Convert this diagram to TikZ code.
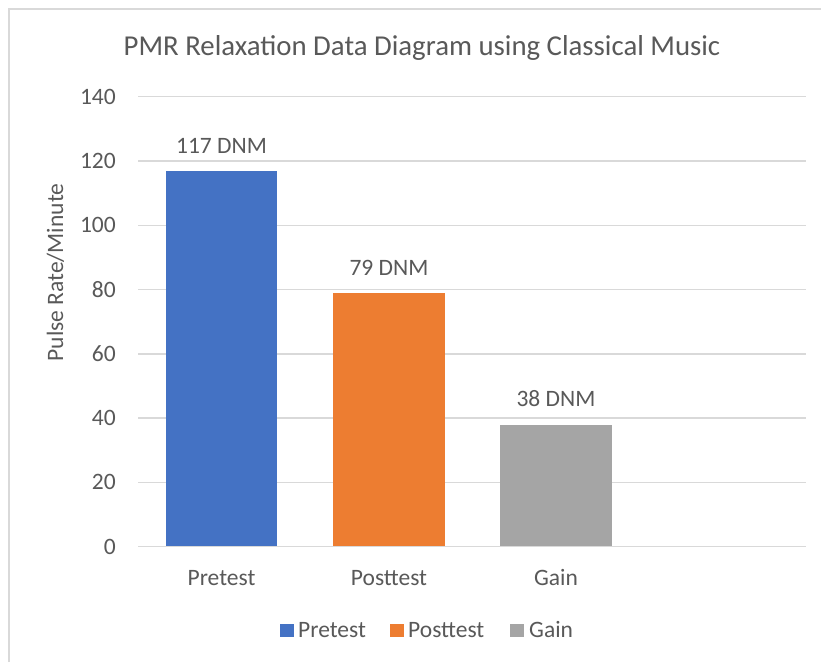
\documentclass[tikz,border=0pt]{standalone}
\usepackage{fontspec}
\setmainfont{Carlito}
\definecolor{txtc}{HTML}{595959}
\definecolor{gridc}{HTML}{D9D9D9}
\definecolor{cblue}{HTML}{4472C4}
\definecolor{corange}{HTML}{ED7D31}
\definecolor{cgray}{HTML}{A5A5A5}
\begin{document}
\begin{tikzpicture}[x=1pt,y=-1pt,
  lbl/.style={text=txtc,font=\fontsize{23.5}{28}\selectfont,inner sep=0pt},
  ttl/.style={text=txtc,font=\fontsize{28.8}{34}\selectfont,inner sep=0pt},
  gridline/.style={draw=gridc,line width=1.4pt},
  framec/.style={draw=gridc,line width=1.5pt}]
\useasboundingbox[fill=white] (0,0) rectangle (821,662);
\draw[framec] (9,662) -- (9,9) -- (821,9);
\foreach \v in {0,20,...,140} {
  \draw[gridline] (138,{546.7-\v*3.215}) -- (806,{546.7-\v*3.215});
  \node[lbl,anchor=east] (tick\v) at (116,{546.7-\v*3.215}) {\v};
}
\fill[cblue] (166,546.7) rectangle (277,{546.7-117*3.215});
\fill[corange] (333,546.7) rectangle (445,{546.7-79*3.215});
\fill[cgray] (500,546.7) rectangle (612,{546.7-38*3.215});
\draw[gridline] (138,546.7) -- (806,546.7);
\node[ttl,anchor=base] (title) at (422,55) {PMR Relaxation Data Diagram using Classical Music};
\node[lbl,anchor=base] (v1) at (221.5,153) {117 DNM};
\node[lbl,anchor=base] (v2) at (389,275) {79 DNM};
\node[lbl,anchor=base] (v3) at (556,406) {38 DNM};
\node[lbl,anchor=base] (c1) at (221.5,585) {Pretest};
\node[lbl,anchor=base] (c2) at (389,585) {Posttest};
\node[lbl,anchor=base] (c3) at (556,585) {Gain};
\node[lbl,anchor=base,rotate=90] (ytitle) at (63,272.5) {Pulse Rate/Minute};
\fill[cblue] (280,624) rectangle (294,637);
\node[lbl,anchor=base west] (l1) at (298,637) {Pretest};
\fill[corange] (390,624) rectangle (404,637);
\node[lbl,anchor=base west] (l2) at (408,637) {Posttest};
\fill[cgray] (510,624) rectangle (524,637);
\node[lbl,anchor=base west] (l3) at (529,637) {Gain};
\end{tikzpicture}
\end{document}
